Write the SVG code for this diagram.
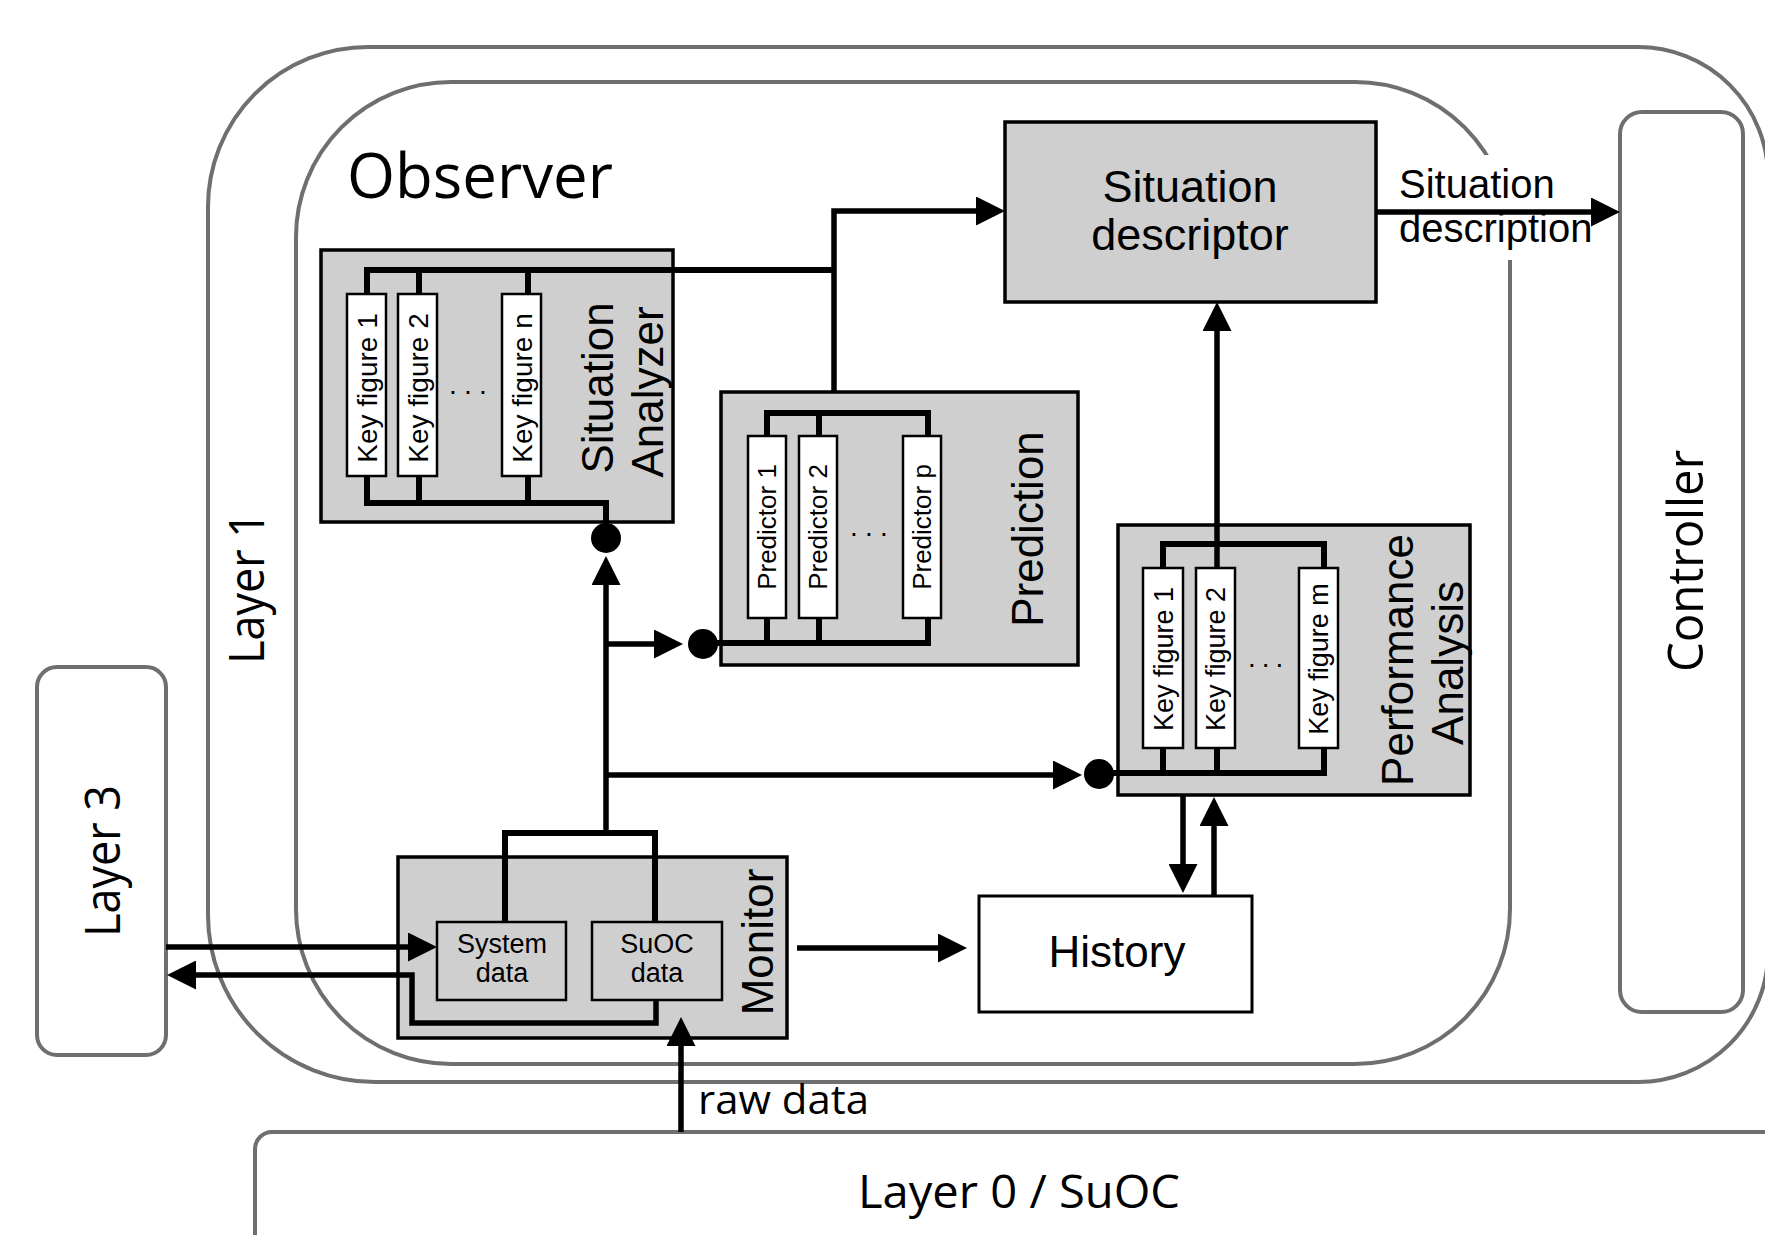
<svg xmlns="http://www.w3.org/2000/svg" width="1765" height="1235" viewBox="0 0 1765 1235">
  <defs>
    <style>
      .layer { fill: #ffffff; stroke: #6f6f6f; stroke-width: 4; }
      .block { fill: #cfcfcf; stroke: #000000; stroke-width: 3.5; }
      .cell { fill: #ffffff; stroke: #000000; stroke-width: 2.5; }
      .cellg { fill: #cfcfcf; stroke: #000000; stroke-width: 2.5; }
      .bus { fill: none; stroke: #000000; stroke-width: 6; stroke-linejoin: miter; }
      .arrow { fill: none; stroke: #000000; stroke-width: 5.5; marker-end: url(#head); }
      .dot { fill: #000000; }
      .sans { font-family: "Liberation Sans", Arial, sans-serif; fill: #000000; }
      .label { font-family: "Open Sans", "Noto Sans", sans-serif; fill: #000000; }
      .big { font-size: 44px; }
      .kf { font-size: 28px; }
      .pred { font-size: 26px; }
    </style>
    <marker id="head" markerUnits="userSpaceOnUse" markerWidth="29" markerHeight="29" refX="21" refY="14.5" orient="auto">
      <path d="M0,0 L29,14.5 L0,29 Z" fill="#000000"/>
    </marker>
  </defs>

  <rect width="1765" height="1235" fill="#ffffff"/>

  <!-- Layer 1 frame -->
  <g id="layer1">
    <path class="layer" d="M368,47 H1638 A130,130 0 0 1 1768,177 V952 A130,130 0 0 1 1638,1082 H375 A167,167 0 0 1 208,915 V207 A160,160 0 0 1 368,47 Z"/>
    <text class="label" font-size="49" text-anchor="middle" textLength="152" lengthAdjust="spacingAndGlyphs" transform="translate(264,588) rotate(-90)">Layer 1</text>
  </g>

  <!-- Observer frame -->
  <g id="observer">
    <rect class="layer" x="296" y="82" width="1214" height="982" rx="155" ry="155"/>
    <text class="label" x="347" y="198" font-size="62" textLength="266" lengthAdjust="spacingAndGlyphs">Observer</text>
  </g>

  <!-- Layer 0 / SuOC -->
  <g id="layer0">
    <rect class="layer" x="255" y="1132" width="1600" height="200" rx="17" ry="17"/>
    <text class="label" x="1019" y="1208" font-size="46" text-anchor="middle" textLength="322" lengthAdjust="spacingAndGlyphs">Layer 0 / SuOC</text>
  </g>

  <!-- Layer 3 -->
  <g id="layer3">
    <rect class="layer" x="37" y="667" width="129" height="388" rx="20" ry="20"/>
    <text class="label" font-size="49" text-anchor="middle" textLength="152" lengthAdjust="spacingAndGlyphs" transform="translate(120,861) rotate(-90)">Layer 3</text>
  </g>

  <!-- Controller -->
  <g id="controller">
    <rect class="layer" x="1620" y="112" width="123" height="900" rx="22" ry="22" stroke-width="5"/>
    <text class="label" font-size="49" text-anchor="middle" textLength="222" lengthAdjust="spacingAndGlyphs" transform="translate(1703,561) rotate(-90)">Controller</text>
  </g>

  <!-- Situation descriptor -->
  <g id="situation-descriptor">
    <rect class="block" x="1005" y="122" width="371" height="180"/>
    <text class="sans" x="1190" y="202" font-size="45" text-anchor="middle">Situation</text>
    <text class="sans" x="1190" y="250" font-size="45" text-anchor="middle">descriptor</text>
  </g>

  <!-- Situation Analyzer -->
  <g id="situation-analyzer">
    <rect class="block" x="321" y="250" width="352" height="272"/>
    <rect class="cell" x="347" y="294" width="39" height="182"/>
    <rect class="cell" x="398" y="294" width="39" height="182"/>
    <rect class="cell" x="502" y="294" width="39" height="182"/>
    <text class="sans kf" text-anchor="middle" transform="translate(377,388) rotate(-90)">Key figure 1</text>
    <text class="sans kf" text-anchor="middle" transform="translate(428,388) rotate(-90)">Key figure 2</text>
    <text class="sans kf" text-anchor="middle" transform="translate(532,388) rotate(-90)">Key figure n</text>
    <text class="sans kf" x="449" y="394" letter-spacing="7.2">...</text>
    <text class="sans big" text-anchor="middle" transform="translate(613,388) rotate(-90)">Situation</text>
    <text class="sans big" text-anchor="middle" transform="translate(663,392) rotate(-90)">Analyzer</text>
  </g>

  <!-- Prediction -->
  <g id="prediction">
    <rect class="block" x="721" y="392" width="357" height="273"/>
    <rect class="cell" x="748" y="436" width="38" height="182"/>
    <rect class="cell" x="799" y="436" width="38" height="182"/>
    <rect class="cell" x="903" y="436" width="38" height="182"/>
    <text class="sans pred" text-anchor="middle" transform="translate(776,527) rotate(-90)">Predictor 1</text>
    <text class="sans pred" text-anchor="middle" transform="translate(827,527) rotate(-90)">Predictor 2</text>
    <text class="sans pred" text-anchor="middle" transform="translate(931,527) rotate(-90)">Predictor p</text>
    <text class="sans kf" x="850" y="536" letter-spacing="7.2">...</text>
    <text class="sans big" text-anchor="middle" transform="translate(1043,529) rotate(-90)">Prediction</text>
  </g>

  <!-- Performance Analysis -->
  <g id="performance-analysis">
    <rect class="block" x="1118" y="525" width="352" height="270"/>
    <rect class="cell" x="1143" y="568" width="40" height="180"/>
    <rect class="cell" x="1196" y="568" width="39" height="180"/>
    <rect class="cell" x="1299" y="568" width="39" height="180"/>
    <text class="sans" font-size="27" text-anchor="middle" transform="translate(1173,659) rotate(-90)">Key figure 1</text>
    <text class="sans" font-size="27" text-anchor="middle" transform="translate(1225,659) rotate(-90)">Key figure 2</text>
    <text class="sans" font-size="27" text-anchor="middle" transform="translate(1328,659) rotate(-90)">Key figure m</text>
    <text class="sans kf" x="1248" y="667" letter-spacing="6">...</text>
    <text class="sans big" text-anchor="middle" transform="translate(1413,660) rotate(-90)">Performance</text>
    <text class="sans big" text-anchor="middle" transform="translate(1463,663) rotate(-90)">Analysis</text>
  </g>

  <!-- Monitor -->
  <g id="monitor">
    <rect class="block" x="398" y="857" width="389" height="181"/>
    <rect class="cellg" x="437" y="922" width="129" height="78"/>
    <rect class="cellg" x="592" y="922" width="130" height="78"/>
    <text class="sans" x="502" y="953" font-size="27" text-anchor="middle">System</text>
    <text class="sans" x="502" y="982" font-size="27" text-anchor="middle">data</text>
    <text class="sans" x="657" y="953" font-size="27" text-anchor="middle">SuOC</text>
    <text class="sans" x="657" y="982" font-size="27" text-anchor="middle">data</text>
    <text class="sans big" text-anchor="middle" transform="translate(773,942) rotate(-90)">Monitor</text>
  </g>

  <!-- History -->
  <g id="history">
    <rect x="979" y="896" width="273" height="116" fill="#ffffff" stroke="#000000" stroke-width="3"/>
    <text class="sans big" x="1117" y="967" text-anchor="middle">History</text>
  </g>

  <!-- Connectors -->
  <g id="connectors">
    <!-- Situation Analyzer buses -->
    <path class="bus" d="M367,294 V270 H834 M419,294 V270 M528,294 V270"/>
    <path class="bus" d="M367,476 V503 H606 V530 M419,476 V503 M528,476 V503"/>
    <circle class="dot" cx="606" cy="538" r="15"/>
    <!-- into Situation descriptor from the left -->
    <path class="arrow" d="M834,392 V211 H997"/>
    <!-- Prediction buses -->
    <path class="bus" d="M767,436 V413 H928 V436 M819,436 V413"/>
    <path class="bus" d="M703,643 H928 V618 M767,618 V643 M819,618 V643"/>
    <circle class="dot" cx="703" cy="644" r="15"/>
    <!-- Performance Analysis buses -->
    <path class="bus" d="M1163,568 V544 H1324 V568"/>
    <path class="arrow" d="M1217,568 V310"/>
    <path class="bus" d="M1098,773 H1324 V748 M1163,748 V773 M1217,748 V773"/>
    <circle class="dot" cx="1099" cy="774" r="15"/>
    <!-- Monitor data distribution -->
    <path class="bus" d="M505,922 V833 H655 V922"/>
    <path class="arrow" d="M606,833 V564"/>
    <path class="arrow" d="M606,644 H675"/>
    <path class="arrow" d="M606,775 H1074"/>
    <!-- Monitor to History -->
    <path class="arrow" d="M797,948 H959"/>
    <!-- Performance Analysis and History -->
    <path class="arrow" d="M1183,795 V885"/>
    <path class="arrow" d="M1214,896 V805"/>
    <!-- Layer 3 exchange -->
    <path class="arrow" d="M166,947 H429"/>
    <path class="arrow" d="M656,1000 V1023 H412 V975 H175"/>
    <!-- raw data from Layer 0 -->
    <path class="arrow" d="M681,1132 V1025"/>
    <text class="label" x="698" y="1114" font-size="41" textLength="171" lengthAdjust="spacingAndGlyphs">raw data</text>
    <!-- Situation description to Controller -->
    <rect x="1394" y="155" width="204" height="105" fill="#ffffff"/>
    <path class="arrow" d="M1376,212 H1612"/>
    <text class="sans" x="1399" y="198" font-size="40">Situation</text>
    <text class="sans" x="1399" y="242" font-size="40">description</text>
  </g>
</svg>
